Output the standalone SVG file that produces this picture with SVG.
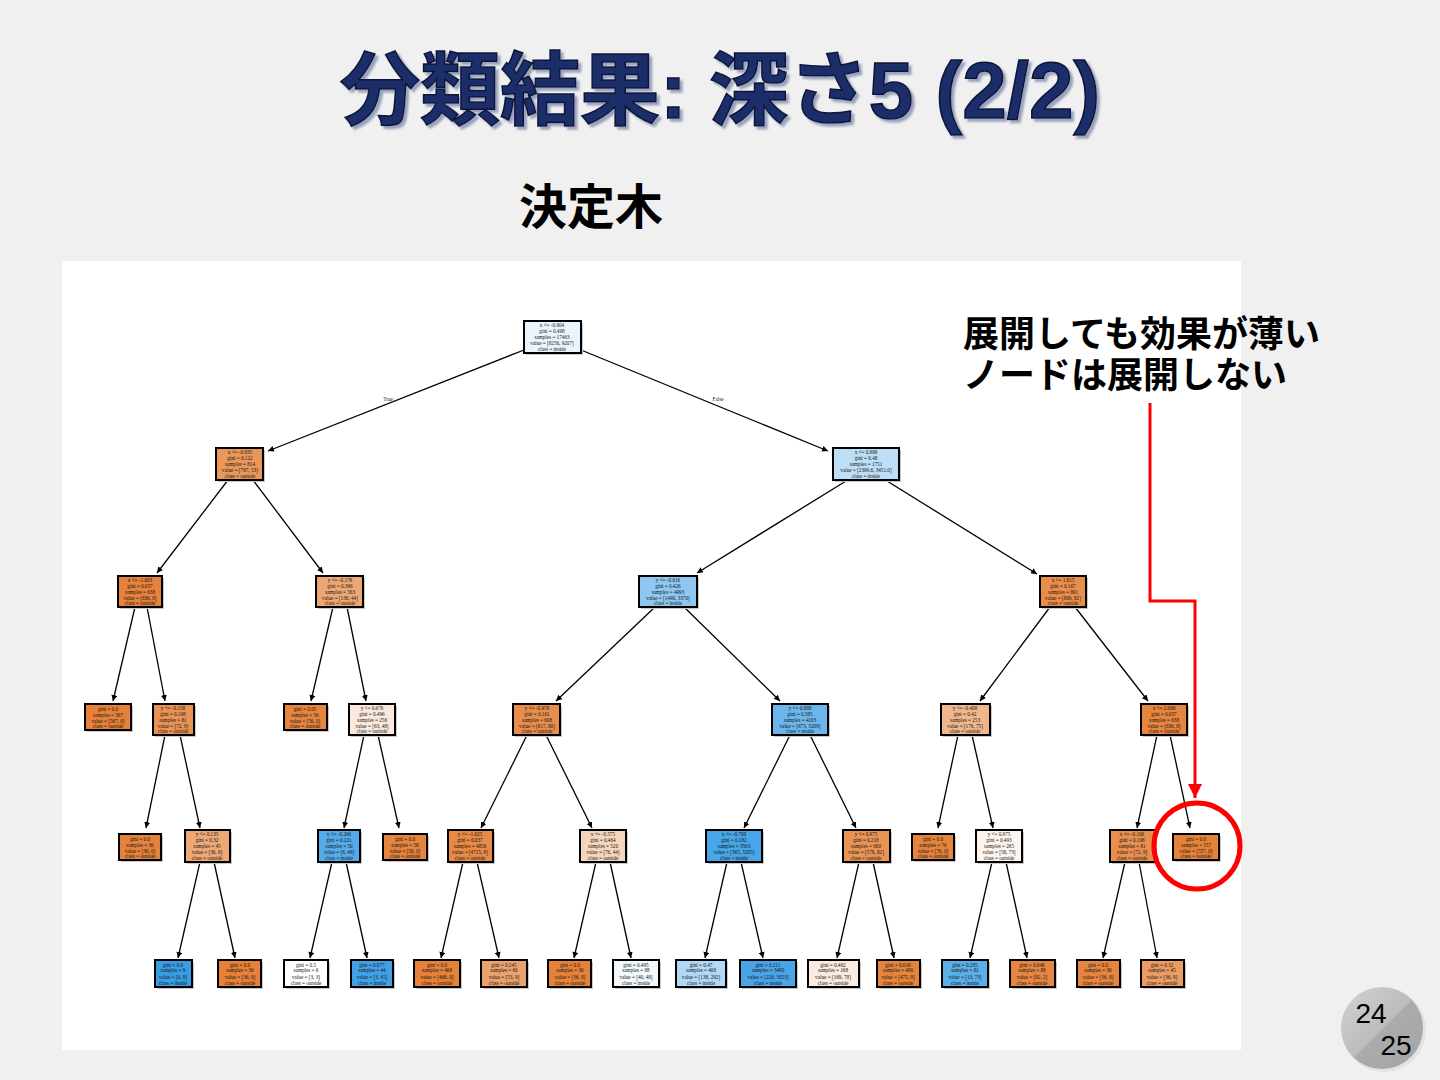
<svg xmlns="http://www.w3.org/2000/svg" width="1440" height="1080" viewBox="0 0 1440 1080">
<defs>
<marker id="ah" viewBox="0 0 10 10" refX="10" refY="5" markerWidth="6" markerHeight="6" markerUnits="userSpaceOnUse" orient="auto"><path d="M0,0 L10,5 L0,10 z" fill="#000"/></marker>
<marker id="rah" viewBox="0 0 10 10" refX="10" refY="5" markerWidth="14" markerHeight="14" markerUnits="userSpaceOnUse" orient="auto"><path d="M0,0 L10,5 L0,10 z" fill="#ff0000"/></marker>
<linearGradient id="badge" x1="0" y1="0" x2="1" y2="1">
<stop offset="0" stop-color="#d2d2d2"/><stop offset="0.5" stop-color="#bdbdbd"/><stop offset="0.52" stop-color="#ababab"/><stop offset="1" stop-color="#a4a4a4"/>
</linearGradient>
<filter id="tsh" x="-5%" y="-10%" width="110%" height="130%"><feDropShadow dx="3" dy="3" stdDeviation="0.8" flood-color="#8f99b8" flood-opacity="0.9"/></filter>
<style>
.sh{fill:#c9c9c9}
.bx{stroke:#000;stroke-width:2}
.t{font-family:"Liberation Serif","DejaVu Serif",serif;font-size:5.2px;text-anchor:middle;fill:#151515}
.e{stroke:#000;stroke-width:1.3;fill:none;marker-end:url(#ah)}
.jp{font-family:"Liberation Sans","Noto Sans CJK JP",sans-serif;font-weight:bold}
</style>
</defs>
<rect x="0" y="0" width="1440" height="1080" fill="#f0f0f0"/>
<g id="title">
<text class="jp" x="720" y="118" font-size="80" text-anchor="middle" fill="#1f2d6b" stroke="#0b1538" stroke-width="1.5" filter="url(#tsh)">分類結果: 深さ5 (2/2)</text>
</g>
<text id="subtitle" class="jp" x="591" y="224" font-size="48" text-anchor="middle" fill="#000">決定木</text>
<rect id="panel" x="62" y="261" width="1179" height="789" fill="#ffffff"/>

<g id="connectors">
<line class="e" x1="524" y1="350" x2="268" y2="451"/>
<line class="e" x1="581" y1="350" x2="828" y2="451"/>
<line class="e" x1="228" y1="480" x2="157" y2="573"/>
<line class="e" x1="253" y1="480" x2="323" y2="573"/>
<line class="e" x1="846" y1="481" x2="697" y2="573"/>
<line class="e" x1="887" y1="481" x2="1037" y2="574"/>
<line class="e" x1="135" y1="607" x2="113" y2="701"/>
<line class="e" x1="147" y1="607" x2="165" y2="701"/>
<line class="e" x1="333" y1="607" x2="311" y2="701"/>
<line class="e" x1="347" y1="607" x2="366" y2="701"/>
<line class="e" x1="655" y1="607" x2="556" y2="701"/>
<line class="e" x1="684" y1="607" x2="780" y2="701"/>
<line class="e" x1="1050" y1="607" x2="980" y2="701"/>
<line class="e" x1="1075" y1="607" x2="1148" y2="701"/>
<line class="e" x1="165" y1="735" x2="146" y2="828"/>
<line class="e" x1="180" y1="735" x2="200" y2="828"/>
<line class="e" x1="364" y1="735" x2="344" y2="828"/>
<line class="e" x1="378" y1="735" x2="399" y2="828"/>
<line class="e" x1="527" y1="735" x2="481" y2="828"/>
<line class="e" x1="546" y1="735" x2="592" y2="828"/>
<line class="e" x1="790" y1="735" x2="744" y2="828"/>
<line class="e" x1="810" y1="735" x2="856" y2="828"/>
<line class="e" x1="958" y1="735" x2="938" y2="828"/>
<line class="e" x1="972" y1="735" x2="993" y2="828"/>
<line class="e" x1="1157" y1="735" x2="1137" y2="828"/>
<line class="e" x1="1170" y1="735" x2="1190" y2="828"/>
<line class="e" x1="200" y1="862" x2="178" y2="958"/>
<line class="e" x1="214" y1="862" x2="235" y2="958"/>
<line class="e" x1="332" y1="862" x2="310" y2="958"/>
<line class="e" x1="346" y1="862" x2="367" y2="958"/>
<line class="e" x1="463" y1="862" x2="441" y2="958"/>
<line class="e" x1="477" y1="862" x2="499" y2="958"/>
<line class="e" x1="596" y1="862" x2="574" y2="958"/>
<line class="e" x1="610" y1="862" x2="631" y2="958"/>
<line class="e" x1="727" y1="862" x2="705" y2="958"/>
<line class="e" x1="741" y1="862" x2="763" y2="958"/>
<line class="e" x1="859" y1="862" x2="837" y2="958"/>
<line class="e" x1="873" y1="862" x2="894" y2="958"/>
<line class="e" x1="992" y1="862" x2="970" y2="958"/>
<line class="e" x1="1006" y1="862" x2="1027" y2="958"/>
<line class="e" x1="1125" y1="862" x2="1103" y2="958"/>
<line class="e" x1="1139" y1="862" x2="1157" y2="958"/>
<text class="t" x="388" y="401">True</text>
<text class="t" x="718" y="401">False</text>
</g>

<g id="n0"><rect class="sh" x="526" y="323" width="57" height="32"/><rect class="bx" x="524" y="321" width="57" height="32" fill="#eaf4fc"/><text class="t"><tspan x="552" y="327">x &lt;= -0.904</tspan><tspan x="552" y="333">gini = 0.498</tspan><tspan x="552" y="339">samples = 17463</tspan><tspan x="552" y="345">value = [8256, 9207]</tspan><tspan x="552" y="351">class = inside</tspan></text></g>

<g id="n1"><rect class="sh" x="218" y="450" width="47" height="32"/><rect class="bx" x="216" y="448" width="47" height="32" fill="#e9975b"/><text class="t"><tspan x="240" y="454">x &lt;= -0.835</tspan><tspan x="240" y="460">gini = 0.122</tspan><tspan x="240" y="466">samples = 814</tspan><tspan x="240" y="472">value = [767, 53]</tspan><tspan x="240" y="478">class = outside</tspan></text></g>
<g id="n2"><rect class="sh" x="835" y="450" width="66" height="32"/><rect class="bx" x="833" y="448" width="66" height="32" fill="#bcdef6"/><text class="t"><tspan x="866" y="454">x &lt;= 0.889</tspan><tspan x="866" y="460">gini = 0.48</tspan><tspan x="866" y="466">samples = 1751</tspan><tspan x="866" y="472">value = [2399.6, 3451.0]</tspan><tspan x="866" y="478">class = inside</tspan></text></g>

<g id="n3"><rect class="sh" x="120" y="578" width="44" height="31"/><rect class="bx" x="118" y="576" width="44" height="31" fill="#e5823b"/><text class="t"><tspan x="140" y="582">x &lt;= -1.603</tspan><tspan x="140" y="588">gini = 0.037</tspan><tspan x="140" y="594">samples = 638</tspan><tspan x="140" y="600">value = [636, 9]</tspan><tspan x="140" y="605">class = outside</tspan></text></g>
<g id="n4"><rect class="sh" x="318" y="578" width="47" height="31"/><rect class="bx" x="316" y="576" width="47" height="31" fill="#eda774"/><text class="t"><tspan x="340" y="582">y &lt;= -0.176</tspan><tspan x="340" y="588">gini = 0.396</tspan><tspan x="340" y="594">samples = 563</tspan><tspan x="340" y="600">value = [136, 44]</tspan><tspan x="340" y="605">class = outside</tspan></text></g>
<g id="n5"><rect class="sh" x="641" y="578" width="58" height="31"/><rect class="bx" x="639" y="576" width="58" height="31" fill="#8ec7f0"/><text class="t"><tspan x="668" y="582">y &lt;= -0.616</tspan><tspan x="668" y="588">gini = 0.426</tspan><tspan x="668" y="594">samples = 4993</tspan><tspan x="668" y="600">value = [1490, 3370]</tspan><tspan x="668" y="605">class = inside</tspan></text></g>
<g id="n6"><rect class="sh" x="1042" y="578" width="46" height="31"/><rect class="bx" x="1040" y="576" width="46" height="31" fill="#e88d4c"/><text class="t"><tspan x="1063" y="582">x &lt;= 1.815</tspan><tspan x="1063" y="588">gini = 0.167</tspan><tspan x="1063" y="594">samples = 891</tspan><tspan x="1063" y="600">value = [809, 82]</tspan><tspan x="1063" y="605">class = outside</tspan></text></g>

<g id="n7"><rect class="sh" x="87" y="706" width="46" height="26"/><rect class="bx" x="85" y="704" width="46" height="26" fill="#e58139"/><text class="t"><tspan x="108" y="711">gini = 0.0</tspan><tspan x="108" y="717">samples = 567</tspan><tspan x="108" y="723">value = [567, 0]</tspan><tspan x="108" y="728">class = outside</tspan></text></g>
<g id="n8"><rect class="sh" x="155" y="706" width="41" height="31"/><rect class="bx" x="153" y="704" width="41" height="31" fill="#e99355"/><text class="t"><tspan x="173" y="710">y &lt;= -0.158</tspan><tspan x="173" y="716">gini = 0.198</tspan><tspan x="173" y="722">samples = 81</tspan><tspan x="173" y="728">value = [72, 9]</tspan><tspan x="173" y="733">class = outside</tspan></text></g>
<g id="n9"><rect class="sh" x="286" y="706" width="43" height="26"/><rect class="bx" x="284" y="704" width="43" height="26" fill="#e6853f"/><text class="t"><tspan x="305" y="711">gini = 0.05</tspan><tspan x="305" y="717">samples = 56</tspan><tspan x="305" y="723">value = [56, 0]</tspan><tspan x="305" y="728">class = outside</tspan></text></g>
<g id="n10"><rect class="sh" x="351" y="706" width="46" height="31"/><rect class="bx" x="349" y="704" width="46" height="31" fill="#fae9dc"/><text class="t"><tspan x="372" y="710">y &lt;= 0.676</tspan><tspan x="372" y="716">gini = 0.496</tspan><tspan x="372" y="722">samples = 256</tspan><tspan x="372" y="728">value = [63, 48]</tspan><tspan x="372" y="733">class = outside</tspan></text></g>
<g id="n11"><rect class="sh" x="515" y="706" width="47" height="31"/><rect class="bx" x="513" y="704" width="47" height="31" fill="#e88e4d"/><text class="t"><tspan x="537" y="710">y &lt;= -0.976</tspan><tspan x="537" y="716">gini = 0.161</tspan><tspan x="537" y="722">samples = 608</tspan><tspan x="537" y="728">value = [817, 80]</tspan><tspan x="537" y="733">class = outside</tspan></text></g>
<g id="n12"><rect class="sh" x="774" y="706" width="56" height="31"/><rect class="bx" x="772" y="704" width="56" height="31" fill="#6cb6ec"/><text class="t"><tspan x="800" y="710">y &lt;= 0.888</tspan><tspan x="800" y="716">gini = 0.385</tspan><tspan x="800" y="722">samples = 4163</tspan><tspan x="800" y="728">value = [673, 3209]</tspan><tspan x="800" y="733">class = inside</tspan></text></g>
<g id="n13"><rect class="sh" x="943" y="706" width="49" height="31"/><rect class="bx" x="941" y="704" width="49" height="31" fill="#f0b78d"/><text class="t"><tspan x="965" y="710">y &lt;= -0.408</tspan><tspan x="965" y="716">gini = 0.42</tspan><tspan x="965" y="722">samples = 253</tspan><tspan x="965" y="728">value = [176, 75]</tspan><tspan x="965" y="733">class = outside</tspan></text></g>
<g id="n14"><rect class="sh" x="1143" y="706" width="46" height="31"/><rect class="bx" x="1141" y="704" width="46" height="31" fill="#e6853f"/><text class="t"><tspan x="1164" y="710">x &lt;= 2.068</tspan><tspan x="1164" y="716">gini = 0.037</tspan><tspan x="1164" y="722">samples = 638</tspan><tspan x="1164" y="728">value = [636, 9]</tspan><tspan x="1164" y="733">class = outside</tspan></text></g>

<g id="n15"><rect class="sh" x="121" y="836" width="42" height="26"/><rect class="bx" x="119" y="834" width="42" height="26" fill="#e5833c"/><text class="t"><tspan x="140" y="841">gini = 0.0</tspan><tspan x="140" y="847">samples = 36</tspan><tspan x="140" y="853">value = [36, 0]</tspan><tspan x="140" y="858">class = outside</tspan></text></g>
<g id="n16"><rect class="sh" x="187" y="832" width="45" height="32"/><rect class="bx" x="185" y="830" width="45" height="32" fill="#eda876"/><text class="t"><tspan x="207" y="836">y &lt;= 0.135</tspan><tspan x="207" y="842">gini = 0.32</tspan><tspan x="207" y="848">samples = 45</tspan><tspan x="207" y="854">value = [36, 9]</tspan><tspan x="207" y="860">class = outside</tspan></text></g>
<g id="n17"><rect class="sh" x="320" y="832" width="42" height="32"/><rect class="bx" x="318" y="830" width="42" height="32" fill="#55abe9"/><text class="t"><tspan x="339" y="836">x &lt;= -0.266</tspan><tspan x="339" y="842">gini = 0.221</tspan><tspan x="339" y="848">samples = 50</tspan><tspan x="339" y="854">value = [6, 48]</tspan><tspan x="339" y="860">class = inside</tspan></text></g>
<g id="n18"><rect class="sh" x="385" y="836" width="44" height="26"/><rect class="bx" x="383" y="834" width="44" height="26" fill="#e6843e"/><text class="t"><tspan x="405" y="841">gini = 0.0</tspan><tspan x="405" y="847">samples = 58</tspan><tspan x="405" y="853">value = [58, 0]</tspan><tspan x="405" y="858">class = outside</tspan></text></g>
<g id="n19"><rect class="sh" x="450" y="832" width="45" height="32"/><rect class="bx" x="448" y="830" width="45" height="32" fill="#e78a47"/><text class="t"><tspan x="470" y="836">y &lt;= -1.625</tspan><tspan x="470" y="842">gini = 0.037</tspan><tspan x="470" y="848">samples = 4856</tspan><tspan x="470" y="854">value = [4715, 9]</tspan><tspan x="470" y="860">class = outside</tspan></text></g>
<g id="n20"><rect class="sh" x="582" y="832" width="46" height="32"/><rect class="bx" x="580" y="830" width="46" height="32" fill="#f6d5bd"/><text class="t"><tspan x="603" y="836">x &lt;= -0.575</tspan><tspan x="603" y="842">gini = 0.464</tspan><tspan x="603" y="848">samples = 520</tspan><tspan x="603" y="854">value = [76, 44]</tspan><tspan x="603" y="860">class = outside</tspan></text></g>
<g id="n21"><rect class="sh" x="708" y="832" width="56" height="32"/><rect class="bx" x="706" y="830" width="56" height="32" fill="#48a5e7"/><text class="t"><tspan x="734" y="836">x &lt;= -0.708</tspan><tspan x="734" y="842">gini = 0.182</tspan><tspan x="734" y="848">samples = 3563</tspan><tspan x="734" y="854">value = [365, 3205]</tspan><tspan x="734" y="860">class = inside</tspan></text></g>
<g id="n22"><rect class="sh" x="845" y="832" width="47" height="32"/><rect class="bx" x="843" y="830" width="47" height="32" fill="#e99355"/><text class="t"><tspan x="866" y="836">y &lt;= 0.975</tspan><tspan x="866" y="842">gini = 0.218</tspan><tspan x="866" y="848">samples = 660</tspan><tspan x="866" y="854">value = [578, 82]</tspan><tspan x="866" y="860">class = outside</tspan></text></g>
<g id="n23"><rect class="sh" x="914" y="836" width="42" height="26"/><rect class="bx" x="912" y="834" width="42" height="26" fill="#e6843d"/><text class="t"><tspan x="933" y="841">gini = 0.0</tspan><tspan x="933" y="847">samples = 76</tspan><tspan x="933" y="853">value = [76, 0]</tspan><tspan x="933" y="858">class = outside</tspan></text></g>
<g id="n24"><rect class="sh" x="978" y="832" width="46" height="32"/><rect class="bx" x="976" y="830" width="46" height="32" fill="#fdf4ee"/><text class="t"><tspan x="999" y="836">y &lt;= 0.975</tspan><tspan x="999" y="842">gini = 0.493</tspan><tspan x="999" y="848">samples = 265</tspan><tspan x="999" y="854">value = [58, 73]</tspan><tspan x="999" y="860">class = outside</tspan></text></g>
<g id="n25"><rect class="sh" x="1112" y="832" width="45" height="32"/><rect class="bx" x="1110" y="830" width="45" height="32" fill="#e88f4f"/><text class="t"><tspan x="1132" y="836">x &lt;= -0.106</tspan><tspan x="1132" y="842">gini = 0.198</tspan><tspan x="1132" y="848">samples = 81</tspan><tspan x="1132" y="854">value = [72, 9]</tspan><tspan x="1132" y="860">class = outside</tspan></text></g>
<g id="n26"><rect class="sh" x="1175" y="836" width="46" height="26"/><rect class="bx" x="1173" y="834" width="46" height="26" fill="#e5833b"/><text class="t"><tspan x="1196" y="841">gini = 0.0</tspan><tspan x="1196" y="847">samples = 557</tspan><tspan x="1196" y="853">value = [557, 0]</tspan><tspan x="1196" y="858">class = outside</tspan></text></g>

<g id="n27"><rect class="sh" x="157" y="962" width="37" height="27"/><rect class="bx" x="155" y="960" width="37" height="27" fill="#399de5"/><text class="t"><tspan x="173" y="967">gini = 0.0</tspan><tspan x="173" y="972">samples = 9</tspan><tspan x="173" y="979">value = [0, 9]</tspan><tspan x="173" y="985">class = inside</tspan></text></g>
<g id="n28"><rect class="sh" x="220" y="962" width="43" height="27"/><rect class="bx" x="218" y="960" width="43" height="27" fill="#e58139"/><text class="t"><tspan x="240" y="967">gini = 0.0</tspan><tspan x="240" y="972">samples = 36</tspan><tspan x="240" y="979">value = [36, 0]</tspan><tspan x="240" y="985">class = outside</tspan></text></g>
<g id="n29"><rect class="sh" x="286" y="962" width="44" height="27"/><rect class="bx" x="284" y="960" width="44" height="27" fill="#ffffff"/><text class="t"><tspan x="306" y="967">gini = 0.5</tspan><tspan x="306" y="972">samples = 6</tspan><tspan x="306" y="979">value = [3, 3]</tspan><tspan x="306" y="985">class = outside</tspan></text></g>
<g id="n30"><rect class="sh" x="353" y="962" width="42" height="27"/><rect class="bx" x="351" y="960" width="42" height="27" fill="#42a1e6"/><text class="t"><tspan x="372" y="967">gini = 0.077</tspan><tspan x="372" y="972">samples = 44</tspan><tspan x="372" y="979">value = [3, 45]</tspan><tspan x="372" y="985">class = inside</tspan></text></g>
<g id="n31"><rect class="sh" x="416" y="962" width="46" height="27"/><rect class="bx" x="414" y="960" width="46" height="27" fill="#e58139"/><text class="t"><tspan x="437" y="967">gini = 0.0</tspan><tspan x="437" y="972">samples = 468</tspan><tspan x="437" y="979">value = [468, 0]</tspan><tspan x="437" y="985">class = outside</tspan></text></g>
<g id="n32"><rect class="sh" x="483" y="962" width="46" height="27"/><rect class="bx" x="481" y="960" width="46" height="27" fill="#eca26d"/><text class="t"><tspan x="504" y="967">gini = 0.245</tspan><tspan x="504" y="972">samples = 60</tspan><tspan x="504" y="979">value = [53, 9]</tspan><tspan x="504" y="985">class = outside</tspan></text></g>
<g id="n33"><rect class="sh" x="550" y="962" width="43" height="27"/><rect class="bx" x="548" y="960" width="43" height="27" fill="#e5823a"/><text class="t"><tspan x="570" y="967">gini = 0.0</tspan><tspan x="570" y="972">samples = 36</tspan><tspan x="570" y="979">value = [36, 0]</tspan><tspan x="570" y="985">class = outside</tspan></text></g>
<g id="n34"><rect class="sh" x="615" y="962" width="46" height="27"/><rect class="bx" x="613" y="960" width="46" height="27" fill="#f2f9fd"/><text class="t"><tspan x="636" y="967">gini = 0.495</tspan><tspan x="636" y="972">samples = 88</tspan><tspan x="636" y="979">value = [40, 48]</tspan><tspan x="636" y="985">class = inside</tspan></text></g>
<g id="n35"><rect class="sh" x="678" y="962" width="50" height="27"/><rect class="bx" x="676" y="960" width="50" height="27" fill="#b1d8f5"/><text class="t"><tspan x="701" y="967">gini = 0.47</tspan><tspan x="701" y="972">samples = 468</tspan><tspan x="701" y="979">value = [138, 292]</tspan><tspan x="701" y="985">class = inside</tspan></text></g>
<g id="n36"><rect class="sh" x="742" y="962" width="56" height="27"/><rect class="bx" x="740" y="960" width="56" height="27" fill="#4aa5e7"/><text class="t"><tspan x="768" y="967">gini = 0.211</tspan><tspan x="768" y="972">samples = 3480</tspan><tspan x="768" y="979">value = [226, 3053]</tspan><tspan x="768" y="985">class = inside</tspan></text></g>
<g id="n37"><rect class="sh" x="810" y="962" width="51" height="27"/><rect class="bx" x="808" y="960" width="51" height="27" fill="#fbeadf"/><text class="t"><tspan x="833" y="967">gini = 0.492</tspan><tspan x="833" y="972">samples = 168</tspan><tspan x="833" y="979">value = [169, 78]</tspan><tspan x="833" y="985">class = outside</tspan></text></g>
<g id="n38"><rect class="sh" x="879" y="962" width="43" height="27"/><rect class="bx" x="877" y="960" width="43" height="27" fill="#e5843d"/><text class="t"><tspan x="898" y="967">gini = 0.018</tspan><tspan x="898" y="972">samples = 486</tspan><tspan x="898" y="979">value = [475, 9]</tspan><tspan x="898" y="985">class = outside</tspan></text></g>
<g id="n39"><rect class="sh" x="944" y="962" width="46" height="27"/><rect class="bx" x="942" y="960" width="46" height="27" fill="#5caee9"/><text class="t"><tspan x="965" y="967">gini = 0.285</tspan><tspan x="965" y="972">samples = 81</tspan><tspan x="965" y="979">value = [13, 73]</tspan><tspan x="965" y="985">class = inside</tspan></text></g>
<g id="n40"><rect class="sh" x="1012" y="962" width="45" height="27"/><rect class="bx" x="1010" y="960" width="45" height="27" fill="#e68642"/><text class="t"><tspan x="1032" y="967">gini = 0.048</tspan><tspan x="1032" y="972">samples = 88</tspan><tspan x="1032" y="979">value = [82, 2]</tspan><tspan x="1032" y="985">class = outside</tspan></text></g>
<g id="n41"><rect class="sh" x="1079" y="962" width="43" height="27"/><rect class="bx" x="1077" y="960" width="43" height="27" fill="#e6853f"/><text class="t"><tspan x="1098" y="967">gini = 0.0</tspan><tspan x="1098" y="972">samples = 36</tspan><tspan x="1098" y="979">value = [36, 0]</tspan><tspan x="1098" y="985">class = outside</tspan></text></g>
<g id="n42"><rect class="sh" x="1143" y="962" width="43" height="27"/><rect class="bx" x="1141" y="960" width="43" height="27" fill="#eb9c63"/><text class="t"><tspan x="1162" y="967">gini = 0.32</tspan><tspan x="1162" y="972">samples = 45</tspan><tspan x="1162" y="979">value = [36, 9]</tspan><tspan x="1162" y="985">class = outside</tspan></text></g>

<g id="annotation">
<text class="jp" x="963" y="347" font-size="36" fill="#000">展開しても効果が薄い</text>
<text class="jp" x="963" y="388" font-size="36" fill="#000">ノードは展開しない</text>
<polyline points="1150,403 1150,601 1195,601 1195,798" fill="none" stroke="#ff0000" stroke-width="3" marker-end="url(#rah)"/>
<circle cx="1197" cy="846" r="43" fill="none" stroke="#ff0000" stroke-width="5"/>
</g>

<g id="page">
<circle cx="1384" cy="1030" r="42" fill="#d8d8d8" opacity="0.6"/>
<circle cx="1382" cy="1028" r="41" fill="url(#badge)"/>
<text x="1371" y="1023" font-family="Liberation Sans,sans-serif" font-size="28" text-anchor="middle" fill="#000">24</text>
<text x="1396" y="1055" font-family="Liberation Sans,sans-serif" font-size="28" text-anchor="middle" fill="#000">25</text>
</g>
</svg>
